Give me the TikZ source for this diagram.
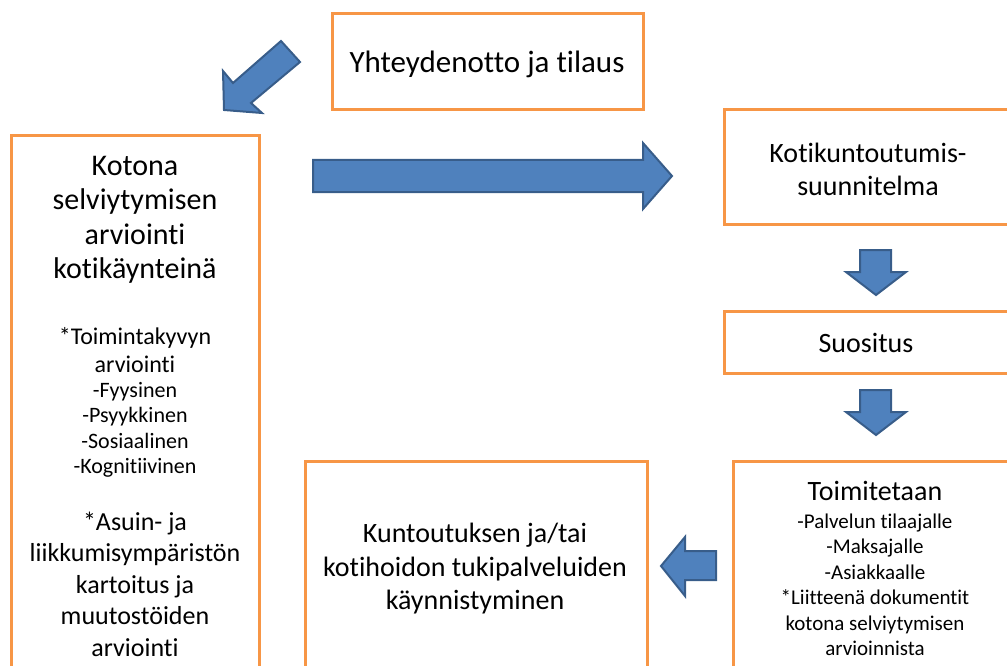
\documentclass[tikz,border=0pt]{standalone}
\usepackage{fontspec}
\setmainfont{Carlito}[Ligatures={NoCommon}]
\definecolor{boxorange}{HTML}{F79646}
\definecolor{arrowfill}{HTML}{4F81BD}
\definecolor{arrowline}{HTML}{385D8A}
\begin{document}
\begin{tikzpicture}[x=1pt,y=-1pt,
  obox/.style={draw=boxorange, line width=3pt, rectangle, inner sep=0pt},
  blockarrow/.style={fill=arrowfill, draw=arrowline, line width=2pt, line join=miter},
  txt/.style={align=center, inner sep=0pt, text=black}]
\useasboundingbox (0,0) rectangle (1007,666);
\clip (0,0) rectangle (1007,666);
% boxes
\node[obox, minimum width=311pt, minimum height=96pt] (order) at (487.5,62) {};
\node[obox, minimum width=248pt, minimum height=554pt] (assess) at (135,413) {};
\node[obox, minimum width=288pt, minimum height=114pt] (plan) at (868,167) {};
\node[obox, minimum width=288pt, minimum height=62pt] (recom) at (868,342) {};
\node[obox, minimum width=284pt, minimum height=229pt] (deliver) at (875,575.5) {};
\node[obox, minimum width=342pt, minimum height=229pt] (start) at (476,575.5) {};
% texts
\node[txt, font=\fontsize{31}{34}\selectfont] (ordert) at (487,64) {Yhteydenotto ja tilaus};
\node[txt, font=\fontsize{30}{34.5}\selectfont] (assesst1) at (135,220) {Kotona\\selviytymisen\\arviointi\\kotikäynteinä};
\node[txt, font=\fontsize{24}{28}\selectfont] (assesst2) at (135,350) {*Toimintakyvyn\\arviointi};
\node[txt, font=\fontsize{22}{25.5}\selectfont] (assesst3) at (135,430) {-Fyysinen\\-Psyykkinen\\-Sosiaalinen\\-Kognitiivinen};
\node[txt, font=\fontsize{26}{31.5}\selectfont] (assesst4) at (135,584) {*Asuin- ja\\liikkumisympäristön\\kartoitus ja\\muutostöiden\\arviointi};
\node[txt, font=\fontsize{28}{33}\selectfont] (plant) at (868,169) {Kotikuntoutumis-\\suunnitelma};
\node[txt, font=\fontsize{28}{33}\selectfont] (recomt) at (866,343) {Suositus};
\node[txt, font=\fontsize{28}{33}\selectfont] (delivert1) at (875,491) {Toimitetaan};
\node[txt, font=\fontsize{21}{25.5}\selectfont] (delivert2) at (875,585) {-Palvelun tilaajalle\\-Maksajalle\\-Asiakkaalle\\*Liitteenä dokumentit\\kotona selviytymisen\\arvioinnista};
\node[txt, font=\fontsize{28}{33.5}\selectfont] (startt) at (475,569) {Kuntoutuksen ja/tai\\kotihoidon tukipalveluiden\\käynnistyminen};
% block arrows
\draw[blockarrow] (281,41) -- (300,62) -- (251,103) -- (262,113) -- (224,110) -- (223,71) -- (233,83) -- cycle;
\draw[blockarrow] (313,160) -- (643,160) -- (643,143) -- (672,176) -- (643,209) -- (643,192) -- (313,192) -- cycle;
\draw[blockarrow] (860,250) -- (891,250) -- (891,272) -- (906,272) -- (876,295) -- (846,272) -- (860,272) -- cycle;
\draw[blockarrow] (860,390) -- (891,390) -- (891,412) -- (906,412) -- (876,435) -- (846,412) -- (860,412) -- cycle;
\draw[blockarrow] (716,551) -- (685,551) -- (685,537) -- (661,566) -- (685,596) -- (685,580) -- (716,580) -- cycle;
\end{tikzpicture}
\end{document}
